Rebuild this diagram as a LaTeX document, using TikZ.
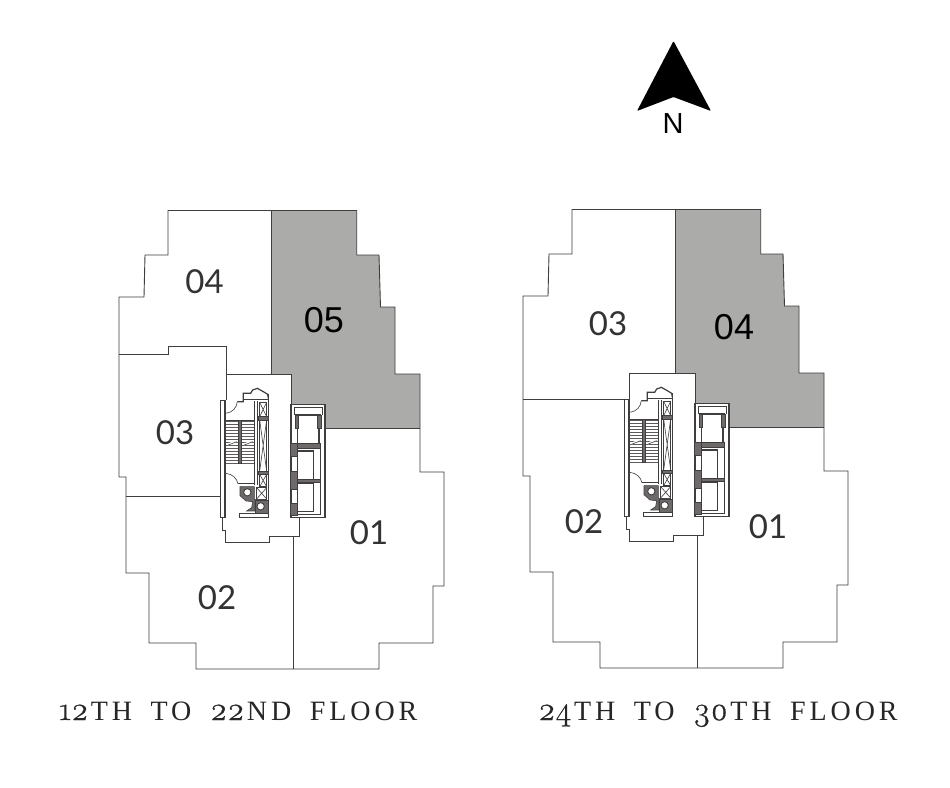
\documentclass[tikz,border=0pt]{standalone}
\usepackage{fontspec}
\setmainfont{Liberation Sans}
\newfontfamily\numfont{Lato}
\newfontfamily\capfont[LetterSpace=14,WordSpace=1.7]{Liberation Serif}
\newfontfamily\digfont[Numbers=OldStyle,FakeBold=0.6]{Latin Modern Roman}
\newcommand{\dg}[1]{{\digfont\fontsize{33}{33}\selectfont #1\hspace{2.5pt}}}
\definecolor{zonegray}{HTML}{ABACAA}
\definecolor{wall}{HTML}{3F3D3D}
\definecolor{wallfill}{HTML}{6E6A6A}
\tikzset{
  plan/.style={draw=wall,line width=0.9pt,line join=miter},
  numlabel/.style={font=\numfont\fontsize{33}{33}\selectfont,text=black!80,inner sep=0pt},
  numblack/.style={font=\fontsize{36}{36}\selectfont,text=black,inner sep=0pt},
  caption/.style={font=\capfont\fontsize{28}{28}\selectfont,text=black!85,inner sep=0pt,anchor=base west},
  core/.style={draw=wall,line width=0.9pt},
  heavy/.style={draw=wall,fill=wallfill,line width=0.6pt},
  thinline/.style={draw=wall,line width=0.6pt}
}
% core of the tower, in units of one third of a pixel
\newcommand{\corefloor}{%
  % left wall
  \draw[core,fill=white,line width=1pt] (31,105) rectangle (45,458);
  \draw[core,line width=1.3pt] (45,105) -- (45,458);
  % top lobby door and gable
  \draw[thinline] (47,145) .. controls (68,143) and (80,128) .. (82,110);
  \draw[core,line width=1.2pt] (82,110) -- (100,110) -- (100,85) -- (122,85) -- (128,75) -- (142,70) -- (160,80) -- (173,88) -- (175,100);
  \draw[thinline] (100,103) -- (175,103);
  % inner wall and shaft
  \draw[core,line width=1.5pt] (175,88) -- (175,445);
  \draw[thinline] (133,108) -- (133,360);
  \draw[core,line width=1.2pt] (143,108) -- (143,360);
  \draw[thinline] (149,112) rectangle (170,155);
  \draw[thinline] (149,112) -- (170,155) (170,112) -- (149,155);
  \draw[thinline] (149,165) rectangle (170,318);
  \draw[thinline] (149,165) -- (170,318) (170,165) -- (149,318);
  \draw[heavy] (145,155) rectangle (175,165);
  \draw[heavy] (145,318) rectangle (175,328);
  \draw[thinline] (149,328) rectangle (170,365);
  \draw[thinline] (149,328) -- (170,365) (170,328) -- (149,365);
  \draw[thinline] (140,368) rectangle (170,402);
  \draw[thinline] (140,368) -- (170,402) (170,368) -- (140,402);
  % stairs
  \foreach \yy in {170,179,...,296} {\draw[draw=wall!85,line width=0.8pt] (47,\yy) -- (84,\yy) (97,\yy) -- (133,\yy);}
  \draw[core,line width=1.1pt] (47,166) -- (133,166);
  \draw[heavy] (85,166) rectangle (94,296);
  \draw[draw=white,line width=2pt] (50,240) -- (80,228) (98,240) -- (128,228);
  \draw[thinline] (50,242) -- (80,230) (98,242) -- (128,230);
  % lower door
  \draw[thinline] (47,325) .. controls (68,327) and (80,340) .. (84,356);
  \draw[core,line width=1.2pt] (84,356) -- (133,356);
  % service rooms
  \draw[heavy] (90,365) -- (133,365) -- (133,403) -- (170,403) -- (170,410) -- (135,410) -- (135,438) -- (110,438) -- (125,428) -- (128,410) -- (108,408) -- (90,392) -- cycle;
  \draw[core,fill=white] (112,382) circle (11);
  \draw[heavy] (137,405) rectangle (175,445);
  \draw[core,fill=white] (152,424) circle (11);
  \draw[core,fill=white,line width=1.2pt] (89,445) rectangle (175,458);
  % elevators
  \draw[core,fill=white,line width=1.1pt] (243,118) rectangle (345,458);
  \draw[thinline] (252,127) -- (336,127) -- (336,150);
  \draw[thinline] (252,127) -- (252,150);
  \draw[thinline] (330,250) -- (330,448) -- (250,448);
  \draw[core,line width=1.4pt] (255,150) -- (333,150);
  \draw[core,line width=1.4pt] (262,258) -- (310,258) -- (310,345);
  \draw[core,line width=1.4pt] (262,355) -- (310,355) -- (310,440) -- (262,440);
  \draw[core,line width=1.4pt] (262,150) -- (262,450);
  \draw[core,line width=1.1pt] (327,190) -- (327,235);
  \draw[heavy] (255,150) rectangle (264,190);
  \draw[heavy] (321,150) rectangle (333,190);
  \draw[heavy] (255,235) rectangle (330,250);
  \draw[heavy] (240,235) rectangle (262,275);
  \draw[heavy] (240,318) rectangle (262,372);
  \draw[heavy] (262,343) rectangle (330,352);
  \draw[heavy] (240,415) rectangle (262,450);
}
% outer outline of a floor
\def\outline{(168,210.5) -- (356.7,210.5) -- (356.7,255) -- (379,255) -- (380.5,307) -- (395,307) -- (395,374) -- (420,374) -- (420,472) -- (444,472) -- (444,586) -- (433,586) -- (433,643) -- (379,643) -- (379,669) -- (196,669) -- (196,643) -- (149,643) -- (149,573) -- (126,573) -- (126,477) -- (119,477) -- (119,297) -- (144,297) -- (145,255) -- (168,255) -- cycle}
\def\grayarea{(271,210.5) -- (356.7,210.5) -- (356.7,255) -- (379,255) -- (380.5,307) -- (395,307) -- (395,374) -- (420,374) -- (420,428) -- (325,428) -- (325,405) -- (291,405) -- (291,374) -- (271,374) -- cycle}
\begin{document}
\begin{tikzpicture}[x=1pt,y=-1pt]
\useasboundingbox (0,0) rectangle (950,787);
\fill[white] (0,0) rectangle (950,787);
% north arrow
\fill[black,rounded corners=1pt] (673.5,41) -- (711,111) -- (673.5,97) -- (637,111) -- cycle;
\node[font=\fontsize{29}{29}\selectfont,inner sep=0pt] (north) at (673,123.5) {N};
% left floor plate
\begin{scope}
  \fill[zonegray] \grayarea;
  \draw[plan] \outline;
  \draw[plan] (271,210.5) -- (271,374);
  \draw[plan] (119,354) -- (168,354) -- (168,346) -- (226,346) -- (226,400);
  \draw[plan] (226,374) -- (291,374) -- (291,405) -- (325,405) -- (325,428) -- (420,428);
  \draw[plan] (126,496.5) -- (221,496.5);
  \draw[plan] (293,536) -- (293,669);
  \draw[plan] (222,517) -- (222,530) -- (225,530) -- (225,542) -- (269,542) -- (269,536) -- (299,536) -- (299,517);
  \begin{scope}[shift={(210,365)},x=0.3333pt,y=-0.3333pt]
    \corefloor
  \end{scope}
\end{scope}
\node[numlabel] (a04) at (204.5,282) {04};
\node[numblack] (a05) at (324,320.5) {05};
\node[numlabel] (a03) at (175,433) {03};
\node[numlabel] (a02) at (217,598) {02};
\node[numlabel] (a01) at (369,533) {01};
\node[caption] (capa) at (59,720) {\dg{12}TH TO \dg{22}ND FLOOR};
% right floor plate
\begin{scope}[shift={(404,-1)}]
  \fill[zonegray] \grayarea;
  \draw[plan] \outline;
  \draw[plan] (271,210.5) -- (271,374);
  \draw[plan] (119,400) -- (226,400);
  \draw[plan] (225,400) -- (225,374) -- (291,374) -- (291,405) -- (325,405) -- (325,428) -- (420,428);
  \draw[plan] (293,536) -- (293,669);
  \draw[plan] (222,517) -- (222,530) -- (225,530) -- (225,542) -- (269,542) -- (269,536) -- (299,536) -- (299,517);
  \begin{scope}[shift={(210,365)},x=0.3333pt,y=-0.3333pt]
    \corefloor
  \end{scope}
\end{scope}
\node[numlabel] (b03) at (608,324) {03};
\node[numblack] (b04) at (734,327) {04};
\node[numlabel] (b02) at (584,522) {02};
\node[numlabel] (b01) at (768,527) {01};
\node[caption] (capb) at (538,720) {\dg{24}TH TO \dg{30}TH FLOOR};
\end{tikzpicture}
\end{document}
